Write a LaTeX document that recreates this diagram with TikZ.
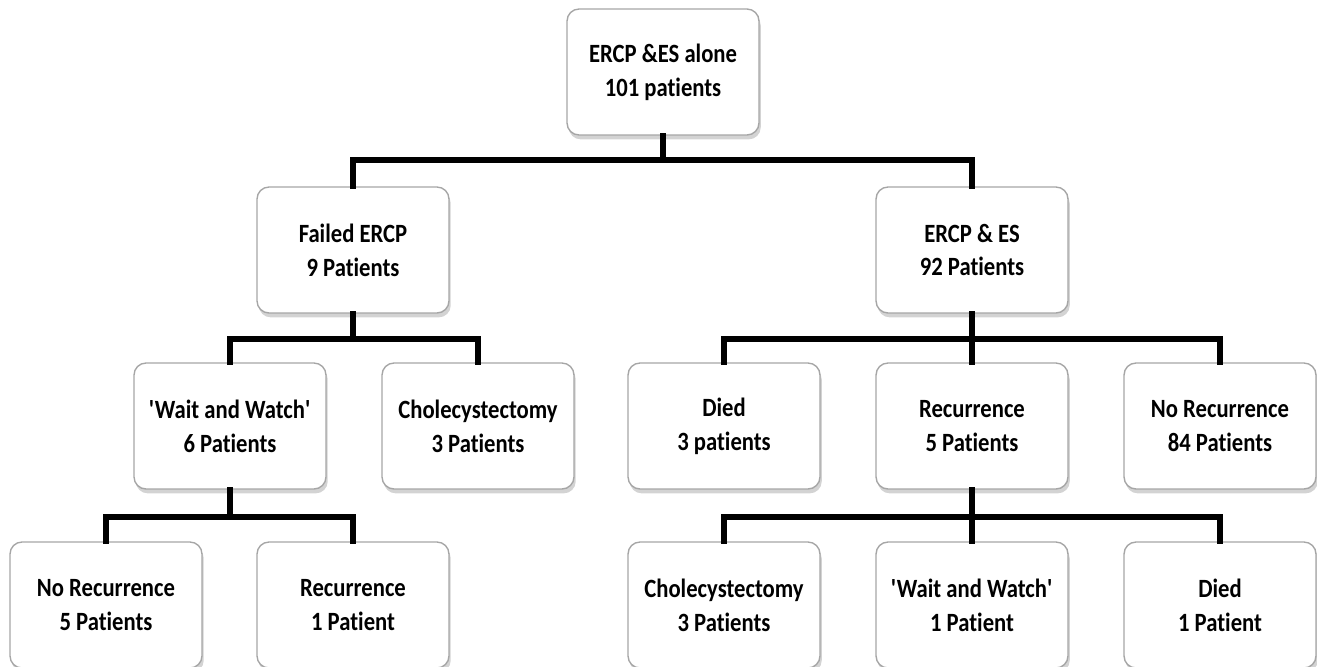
\documentclass[tikz,border=0pt]{standalone}
\usepackage{fontspec}
\setmainfont[FakeStretch=0.86,Ligatures=NoCommon]{Carlito}
\usetikzlibrary{shadows}

\begin{document}
\begin{tikzpicture}[x=0.02cm,y=-0.02cm,
  box/.style={draw=gray!70,line width=0.8pt,fill=white,rounded corners=0.24cm,
    minimum width=3.84cm,minimum height=2.52cm,align=center,
    font=\fontsize{15}{19.3}\selectfont\bfseries,
    drop shadow={shadow xshift=1pt,shadow yshift=-2.5pt,opacity=0.35}},
  link/.style={line width=3.4pt,line cap=rect}]

\useasboundingbox (0,0) rectangle (1317,666);

% top
\node[box] (root) at (663,72) {ERCP \&ES alone\\101 patients};

% second level
\node[box] (fail) at (353,250) {Failed ERCP\\9 Patients};
\node[box] (ercp) at (972,250) {ERCP \& ES\\92 Patients};

% third level
\node[box] (wait) at (230,426) {\textquotesingle Wait and Watch\textquotesingle\\6 Patients};
\node[box] (chol) at (478,426) {Cholecystectomy\\3 Patients};
\node[box] (died) at (724,426) {Died\\3 patients};
\node[box] (recur) at (972,426) {Recurrence\\5 Patients};
\node[box] (norec) at (1220,426) {No Recurrence\\84 Patients};

% bottom
\node[box] (wnorec) at (106,605) {No Recurrence\\5 Patients};
\node[box] (wrecur) at (353,605) {Recurrence\\1 Patient};
\node[box] (rchol) at (724,605) {Cholecystectomy\\3 Patients};
\node[box] (rwait) at (972,605) {\textquotesingle Wait and Watch\textquotesingle\\1 Patient};
\node[box] (rdied) at (1220,605) {Died\\1 Patient};

\coordinate (j1) at (663,160);
\coordinate (j2) at (353,339);
\coordinate (j3) at (972,339);
\coordinate (j4) at (230,517);
\coordinate (j5) at (972,517);

\draw[link] (root.south) -- (j1) -| (fail.north);
\draw[link] (j1) -| (ercp.north);

\draw[link] (fail.south) -- (j2) -| (wait.north);
\draw[link] (j2) -| (chol.north);

\draw[link] (ercp.south) -- (j3) -| (died.north);
\draw[link] (j3) -- (recur.north);
\draw[link] (j3) -| (norec.north);

\draw[link] (wait.south) -- (j4) -| (wnorec.north);
\draw[link] (j4) -| (wrecur.north);

\draw[link] (recur.south) -- (j5) -| (rchol.north);
\draw[link] (j5) -- (rwait.north);
\draw[link] (j5) -| (rdied.north);
\end{tikzpicture}
\end{document}
